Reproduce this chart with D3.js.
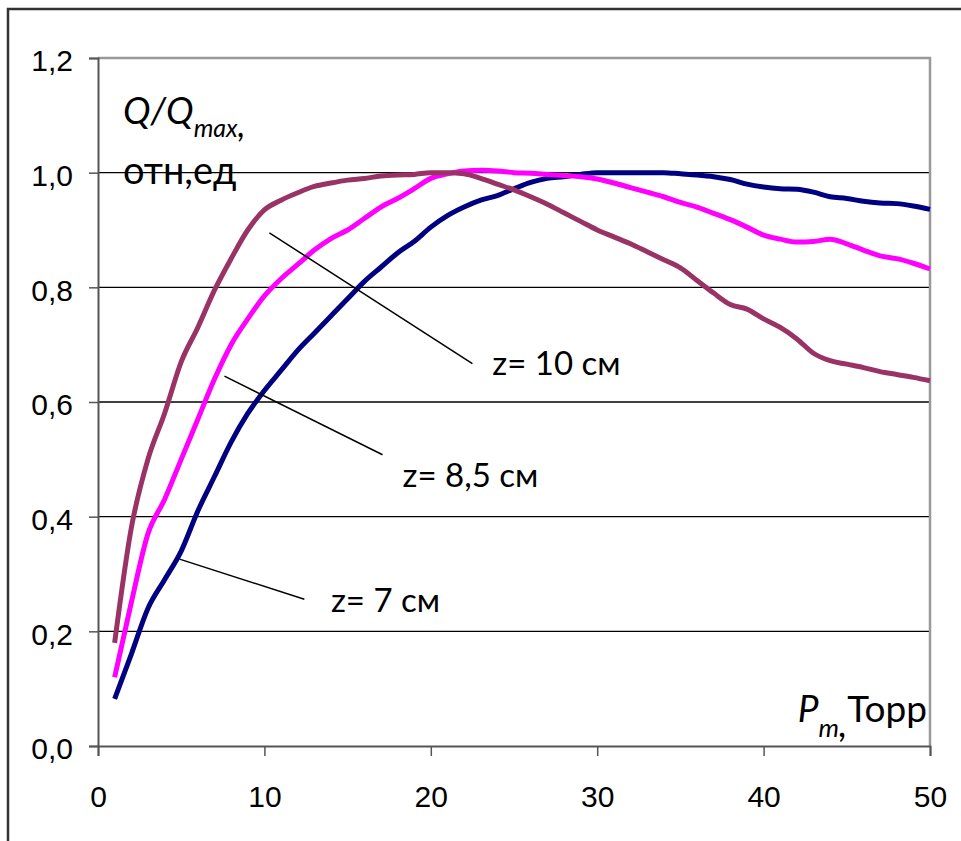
<!DOCTYPE html>
<meta charset="utf-8">
<style>
  body { margin: 0; background: #fff; }
  .lbl { font-family: Lato, "Noto Sans", sans-serif; fill: #000; }
</style>
<svg id="chart" width="961" height="841"></svg>
<script src="https://d3js.org/d3.v7.min.js"></script>
<script>

// pressure, Torr
var pressure = d3.range(1, 51)

// Q/Qmax for z = 7 cm
var z7 = [0.082, 0.16, 0.24, 0.29, 0.34, 0.41, 0.47, 0.53, 0.58, 0.62,
  0.655, 0.69, 0.72, 0.75, 0.78, 0.81, 0.835, 0.86, 0.88, 0.905,
  0.925, 0.94, 0.952, 0.96, 0.972, 0.983, 0.99, 0.993, 0.997, 1.0,
  1.0, 1.0, 1.0, 1.0, 0.998, 0.996, 0.993, 0.988, 0.98, 0.975,
  0.972, 0.971, 0.966, 0.958, 0.955, 0.95, 0.947, 0.946, 0.942, 0.936]

// z = 8,5 cm
var z85 = [0.12, 0.25, 0.37, 0.43, 0.50, 0.57, 0.64, 0.70, 0.745, 0.785,
  0.815, 0.84, 0.865, 0.885, 0.90, 0.92, 0.94, 0.955, 0.972, 0.99,
  0.998, 1.003, 1.004, 1.003, 1.0, 0.999, 0.997, 0.995, 0.993, 0.989,
  0.982, 0.974, 0.966, 0.958, 0.948, 0.94, 0.929, 0.918, 0.905, 0.891,
  0.884, 0.879, 0.88, 0.884, 0.876, 0.865, 0.855, 0.85, 0.842, 0.832]

// z = 10 cm
var z10 = [0.18, 0.38, 0.50, 0.58, 0.67, 0.73, 0.795, 0.85, 0.90, 0.935,
  0.952, 0.965, 0.976, 0.982, 0.987, 0.99, 0.994, 0.996, 0.997, 1.0,
  1.0, 0.998, 0.99, 0.98, 0.97, 0.958, 0.945, 0.93, 0.915, 0.9,
  0.888, 0.876, 0.862, 0.848, 0.834, 0.812, 0.79, 0.77, 0.762, 0.745,
  0.73, 0.71, 0.685, 0.672, 0.666, 0.66, 0.653, 0.648, 0.643, 0.637]

var xTicks = [0, 10, 20, 30, 40, 50]
var yTicks = [0, 0.2, 0.4, 0.6, 0.8, 1.0, 1.2]

// label text, leader line start/end and text anchor (in data units)
var notes = [
  {text: "z= 10 см", from: [10.3, 0.895], to: [22.5, 0.667], at: [23.7, 0.647]},
  {text: "z= 8,5 см", from: [7.6, 0.645], to: [17.1, 0.508], at: [18.3, 0.452]},
  {text: "z= 7 см", from: [4.9, 0.326], to: [12.4, 0.256], at: [14.0, 0.234]}
]

var series = [
  {name: "z7", values: z7, color: "#000080"},
  {name: "z85", values: z85, color: "#ff00ff"},
  {name: "z10", values: z10, color: "#993366"}
]

var svg = d3.select("#chart"),
    margin = {top: 58, right: 31, bottom: 95, left: 98},
    width = +svg.attr("width") - margin.left - margin.right,
    height = +svg.attr("height") - margin.top - margin.bottom

// outer frame
svg.append("rect")
    .attr("x", 8).attr("y", 9)
    .attr("width", 1000).attr("height", 1000)
    .attr("fill", "none")
    .attr("stroke", "#333")
    .attr("stroke-width", 2.5)

var g = svg.append("g").attr("transform", "translate(" + margin.left + "," + margin.top + ")")

var x = d3.scaleLinear().domain([0, 50]).range([0, width])
var y = d3.scaleLinear().domain([0, 1.2]).range([height, 0])

// gridlines
g.append("g")
  .selectAll("line")
  .data(yTicks.filter(d => d > 0 && d < 1.2))
  .enter().append("line")
    .attr("x1", 0).attr("x2", width)
    .attr("y1", d => y(d)).attr("y2", d => y(d))
    .attr("stroke", "#000")
    .attr("stroke-width", 1.3)

// top and right frame of plot area
g.append("path")
    .attr("d", "M0," + y(1.2) + "H" + x(50) + "V" + y(0))
    .attr("fill", "none")
    .attr("stroke", "#999")
    .attr("stroke-width", 2.5)

var fmt = d => d3.format(".1f")(d).replace(".", ",")

var yAxis = g.append("g")
    .call(d3.axisLeft(y).tickValues(yTicks).tickSize(9).tickPadding(16).tickFormat(fmt))
yAxis.selectAll("text").attr("dy", "0.43em")

var xAxis = g.append("g")
    .attr("transform", "translate(0," + height + ")")
    .call(d3.axisBottom(x).tickValues(xTicks).tickSize(10).tickPadding(51))
xAxis.selectAll("text").attr("dy", "0")

svg.selectAll(".tick text")
    .style("font-family", "'Liberation Sans', Arial, sans-serif")
    .style("font-size", "30px")
    .attr("fill", "#000")
svg.selectAll(".domain").attr("stroke", "#555").attr("stroke-width", 2)
svg.selectAll(".tick line").attr("stroke", "#555").attr("stroke-width", 1.5)

// curves
var line = d3.line()
    .x((d, i) => x(pressure[i]))
    .y(d => y(d))
    .curve(d3.curveMonotoneX)

g.selectAll(".curve")
  .data(series)
  .enter().append("path")
    .attr("class", "curve")
    .attr("d", d => line(d.values))
    .attr("fill", "none")
    .attr("stroke", d => d.color)
    .attr("stroke-width", 5)
    .attr("stroke-linejoin", "round")

// leader lines and labels
g.selectAll(".leader")
  .data(notes)
  .enter().append("line")
    .attr("class", "leader")
    .attr("x1", d => x(d.from[0])).attr("y1", d => y(d.from[1]))
    .attr("x2", d => x(d.to[0])).attr("y2", d => y(d.to[1]))
    .attr("stroke", "#000")
    .attr("stroke-width", 1.5)

g.selectAll(".note")
  .data(notes)
  .enter().append("text")
    .attr("class", "lbl note")
    .attr("x", d => x(d.at[0])).attr("y", d => y(d.at[1]))
    .style("font-size", "33px")
    .text(d => d.text)

// axis titles
var yt = svg.append("text").attr("class", "lbl")
    .attr("x", 123).attr("y", 124)
    .style("font-size", "37px")
yt.append("tspan").style("font-style", "italic").text("Q/Q")
yt.append("tspan").style("font-style", "italic").style("font-size", "25px").attr("dy", 13).text("max")
yt.append("tspan").style("font-style", "italic").style("font-size", "34px").text(",")

svg.append("text").attr("class", "lbl")
    .attr("x", 123).attr("y", 184)
    .style("font-size", "38px")
    .text("отн,ед")

var xt = svg.append("text").attr("class", "lbl")
    .attr("x", 927).attr("y", 722)
    .attr("text-anchor", "end")
    .style("font-size", "37px")
xt.append("tspan").style("font-style", "italic").text("P")
xt.append("tspan").style("font-style", "italic").style("font-size", "26px").attr("dy", 15).text("m")
xt.append("tspan").style("font-style", "italic").text(",")
xt.append("tspan").attr("dy", -15).text("Topp")

</script>
